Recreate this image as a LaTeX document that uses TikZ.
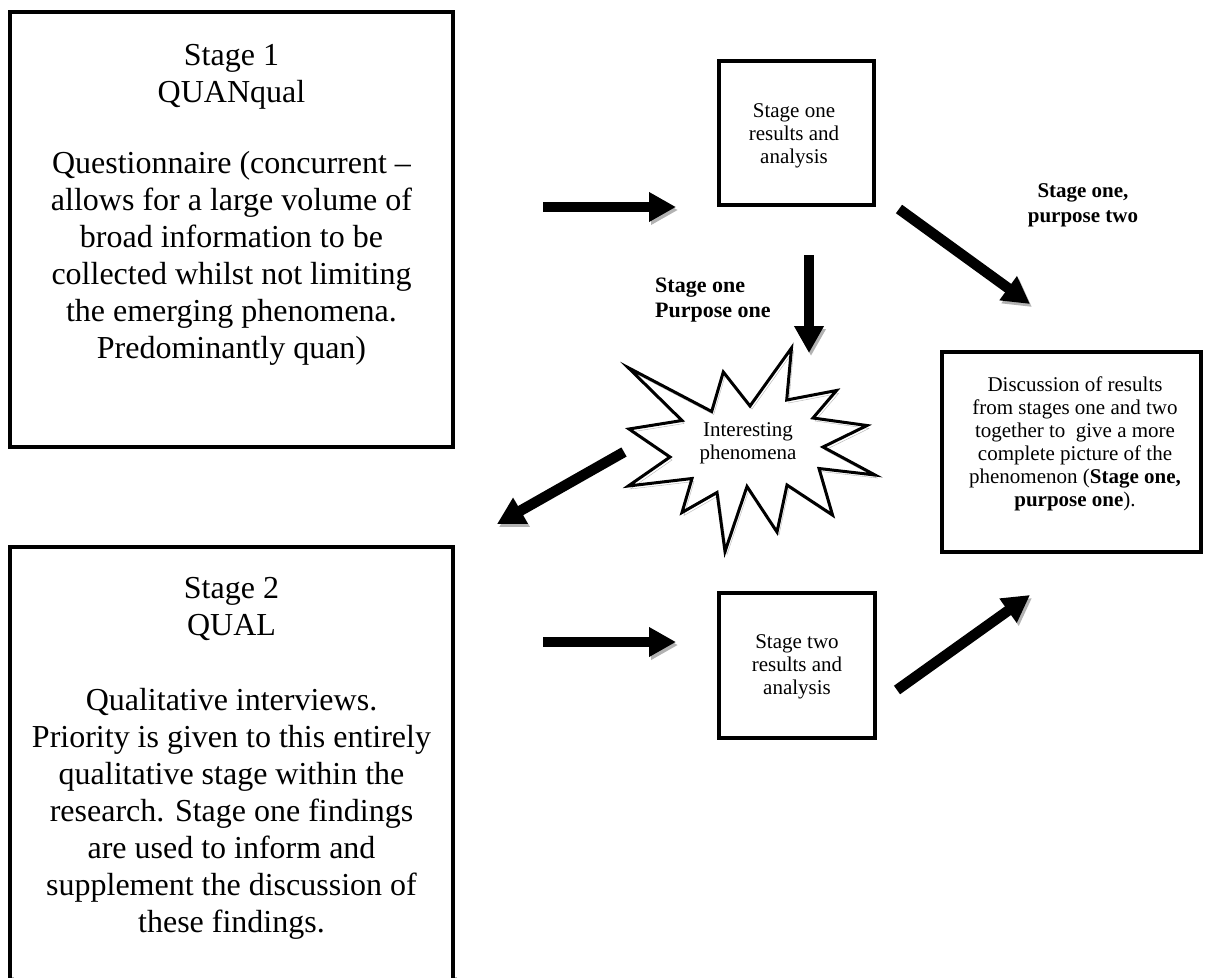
\documentclass[tikz,border=0pt]{standalone}
\usepackage{fontspec}
\setmainfont{Liberation Serif}
\usetikzlibrary{arrows.meta}
\pgfdeclarelayer{bg}
\pgfsetlayers{bg,main}
\begin{document}
\begin{tikzpicture}[x=1pt,y=-1pt,
  frame/.style={draw, line width=3.5pt, rectangle, inner sep=0pt, outer sep=0pt},
  bigtext/.style={align=center, inner sep=0pt, font=\fontsize{32}{37}\selectfont},
  smalltext/.style={align=center, inner sep=0pt, font=\fontsize{21}{23}\selectfont},
  tag/.style={inner sep=0pt, font=\bfseries\fontsize{22}{25}\selectfont},
  shade/.style={draw=black!30, line width=3.5pt},
  blockarrow/.style={line width=10.5pt, -{Triangle[length=27pt,width=28pt]},
    preaction={draw=black!30, transform canvas={shift={(2,3)}}}},
  burst/.style={line width=3pt, line join=miter,
    preaction={draw=black!30, transform canvas={shift={(2,3)}}}}
]
\useasboundingbox (0,0) rectangle (1207,977);
\clip (0,0) rectangle (1207,977);
\fill[white] (0,0) rectangle (1207,977);

% boxes
\node[frame, minimum width=443pt, minimum height=435pt] (s1box) at (231.5,229.5) {};
\node[frame, minimum width=443pt, minimum height=453pt] (s2box) at (231.5,773.5) {};
\node[frame, minimum width=155pt, minimum height=144pt] (r1box) at (796.5,133) {};
\node[frame, minimum width=156pt, minimum height=145pt] (r2box) at (797,665.5) {};
\node[frame, minimum width=259pt, minimum height=200pt] (dbox) at (1071.5,452) {};

% drop shadows of the boxes
\begin{pgfonlayer}{bg}
  \foreach \b in {s1box,s2box,r1box,r2box,dbox}
    \draw[shade] ([shift={(2,3)}]\b.north west) rectangle ([shift={(2,3)}]\b.south east);
\end{pgfonlayer}

% box texts
\node[bigtext] (s1) at (231.5,204.5) {Stage 1\\QUANqual\\[34pt]Questionnaire (concurrent –\\allows for a large volume of\\broad information to be\\collected whilst not limiting\\the emerging phenomena.\\Predominantly quan)};
\node[bigtext] (s2) at (231.5,758) {Stage 2\\QUAL\\[38pt]Qualitative interviews.\\Priority is given to this entirely\\qualitative stage within the\\research. Stage one findings\\are used to inform and\\supplement the discussion of\\these findings.};
\node[smalltext] (r1) at (794,135.5) {Stage one\\results and\\analysis};
\node[smalltext] (r2) at (797,667) {Stage two\\results and\\analysis};
\node[smalltext] (dt) at (1075,443.5) {Discussion of results\\from stages one and two\\together to \ give a more\\complete picture of the\\phenomenon (\textbf{Stage one,}\\\textbf{purpose one}).};

% starburst
\draw[burst] (791.5,348) -- (786.7,400) -- (836.5,390.5) -- (813,418) -- (867,425.5)
  -- (823,447) -- (875,475) -- (819,468.5) -- (832.5,515) -- (787,485) -- (777,532)
  -- (747,486.5) -- (725,551.5) -- (717,492.5) -- (682,512.5) -- (692,478.5)
  -- (628.3,486) -- (670,457) -- (629,429) -- (682,420.5) -- (628.3,367.7)
  -- (711.7,411.5) -- (723.3,372) -- (750,406) -- cycle;
\node[smalltext] (phen) at (748,443.5) {Interesting\\phenomena};

% labels
\node[tag, align=left, anchor=west] (lab1) at (655,300.5) {Stage one\\Purpose one};
\node[tag, align=center, font=\bfseries\fontsize{21}{25}\selectfont] (lab2) at (1083,205.5) {Stage one,\\purpose two};

% arrow end points
\coordinate (a1s) at (543,207);  \coordinate (a1e) at (676,207);
\coordinate (a2s) at (543,642);  \coordinate (a2e) at (676,642);
\coordinate (a3s) at (809,255);  \coordinate (a3e) at (809,353);
\coordinate (a4s) at (899,209);  \coordinate (a4e) at (1030,304);
\coordinate (a5s) at (624,452);  \coordinate (a5e) at (497,524);
\coordinate (a6s) at (897,690);  \coordinate (a6e) at (1030,595);

\draw[blockarrow] (a1s) -- (a1e);
\draw[blockarrow] (a2s) -- (a2e);
\draw[blockarrow] (a3s) -- (a3e);
\draw[blockarrow] (a4s) -- (a4e);
\draw[blockarrow] (a5s) -- (a5e);
\draw[blockarrow] (a6s) -- (a6e);
\end{tikzpicture}
\end{document}
